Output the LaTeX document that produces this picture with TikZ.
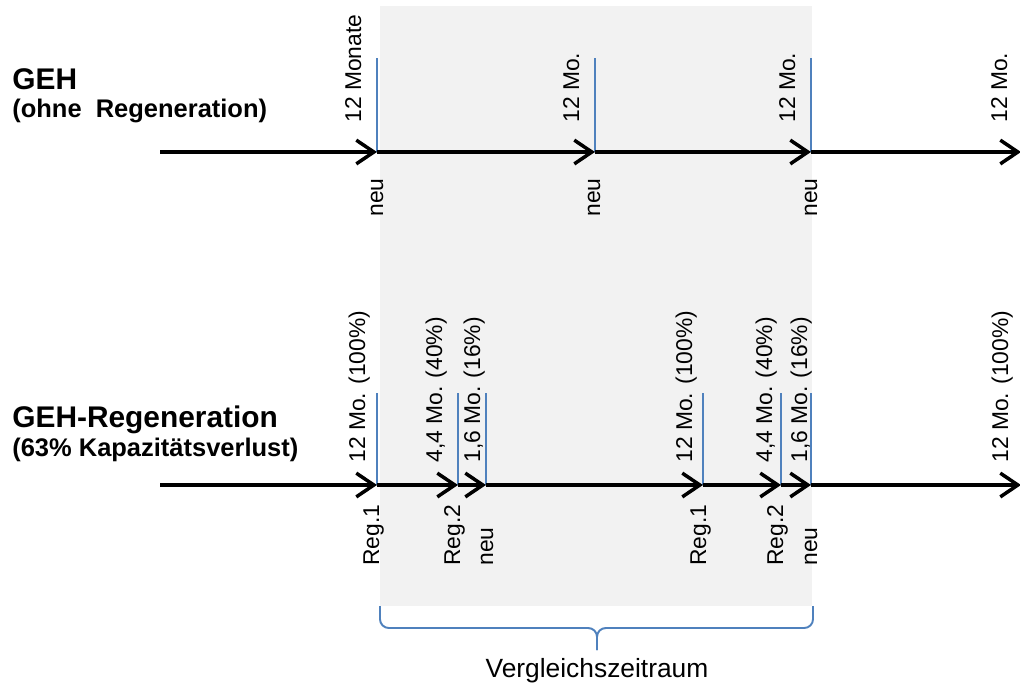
\documentclass[tikz,border=0pt]{standalone}
\usepackage{fontspec}
\setmainfont{Liberation Sans}
\usetikzlibrary{arrows.meta}
\definecolor{tickblue}{RGB}{79,129,189}
\definecolor{periodgray}{RGB}{242,242,242}
\tikzset{
    timeline/.style ={
        line width=2pt,
        -{Straight Barb[length=10pt,width=13.5pt]}
    },
    monthtick/.style ={
        draw=tickblue,
        line width=1.1pt
    },
    vlabel/.style ={
        rotate=90,
        anchor=base west,
        inner sep=0pt,
        font=\fontsize{13}{15}\selectfont
    },
    title/.style ={
        anchor=base west,
        inner sep=0pt,
        font=\bfseries\fontsize{17}{20}\selectfont
    },
    subtitle/.style ={
        anchor=base west,
        inner sep=0pt,
        font=\bfseries\fontsize{14.5}{17}\selectfont
    }
}

\begin{document}
\begin{tikzpicture}[x=0.02cm,y=-0.02cm]
    \useasboundingbox (0,0) rectangle (1020,684);
    % comparison period
    \fill[periodgray] (380,6) rectangle (812,606);

    % GEH without regeneration
    \node[title] (geh) at(12,89) {GEH};
    \node[subtitle] (ohne) at(12,117) {(ohne\ \ Regeneration)};
    \coordinate (a0) at(160,152);
    \coordinate (a1) at(377,152);
    \coordinate (a2) at(595,152);
    \coordinate (a3) at(811,152);
    \coordinate (a4) at(1021,152);
    \foreach \t in {a1,a2,a3}
        \draw[monthtick] (\t) -- ++(0,-94);
    \draw[timeline] (a0) -- (a1);
    \draw[timeline] (a1) -- (a2);
    \draw[timeline] (a2) -- (a3);
    \draw[timeline] (a3) -- (a4);
    \node[vlabel] (m1) at(361,123) {12 Monate};
    \node[vlabel] (m2) at(579,123) {12 Mo.};
    \node[vlabel] (m3) at(795,123) {12 Mo.};
    \node[vlabel] (m4) at(1007,123) {12 Mo.};
    \node[vlabel] (n1) at(383,217) {neu};
    \node[vlabel] (n2) at(600,217) {neu};
    \node[vlabel] (n3) at(817,217) {neu};

    % GEH with regeneration
    \node[title] (gehreg) at(12,427) {GEH-Regeneration};
    \node[subtitle] (verlust) at(12,456) {(63\% Kapazitätsverlust)};
    \coordinate (b0) at(160,485);
    \coordinate (b1) at(377,485);
    \coordinate (b2) at(458,485);
    \coordinate (b3) at(486,485);
    \coordinate (b4) at(703,485);
    \coordinate (b5) at(781,485);
    \coordinate (b6) at(811,485);
    \coordinate (b7) at(1021,485);
    \foreach \t in {b1,b2,b3,b4,b5,b6}
        \draw[monthtick] (\t) -- ++(0,-92);
    \draw[timeline] (b0) -- (b1);
    \draw[timeline] (b1) -- (b2);
    \draw[timeline] (b2) -- (b3);
    \draw[timeline] (b3) -- (b4);
    \draw[timeline] (b4) -- (b5);
    \draw[timeline] (b5) -- (b6);
    \draw[timeline] (b6) -- (b7);
    \node[vlabel] (p1) at(365,463) {12 Mo. (100\%)};
    \node[vlabel] (p2) at(442,463) {4,4 Mo. (40\%)};
    \node[vlabel] (p3) at(480,463) {1,6 Mo. (16\%)};
    \node[vlabel] (p4) at(692,463) {12 Mo. (100\%)};
    \node[vlabel] (p5) at(772,463) {4,4 Mo. (40\%)};
    \node[vlabel] (p6) at(807,463) {1,6 Mo. (16\%)};
    \node[vlabel] (p7) at(1008,463) {12 Mo. (100\%)};
    \node[vlabel] (r1) at(379,566) {Reg.1};
    \node[vlabel] (r2) at(460,566) {Reg.2};
    \node[vlabel] (r3) at(493,566) {neu};
    \node[vlabel] (r4) at(706,566) {Reg.1};
    \node[vlabel] (r5) at(783,566) {Reg.2};
    \node[vlabel] (r6) at(817,566) {neu};

    % brace
    \coordinate (bl) at(380,606);
    \coordinate (br) at(813,606);
    \coordinate (bm) at(597,628);
    \coordinate (bt) at(597,650);
    \draw[tickblue,line width=1.1pt,rounded corners=5pt] (bl) |- (bm) -- (bt);
    \draw[tickblue,line width=1.1pt,rounded corners=5pt] (br) |- (bm) -- (bt);
    \node[anchor=base,inner sep=0pt,font=\fontsize{15}{18}\selectfont] (vz) at(597,677) {Vergleichszeitraum};
\end{tikzpicture}
\end{document}
